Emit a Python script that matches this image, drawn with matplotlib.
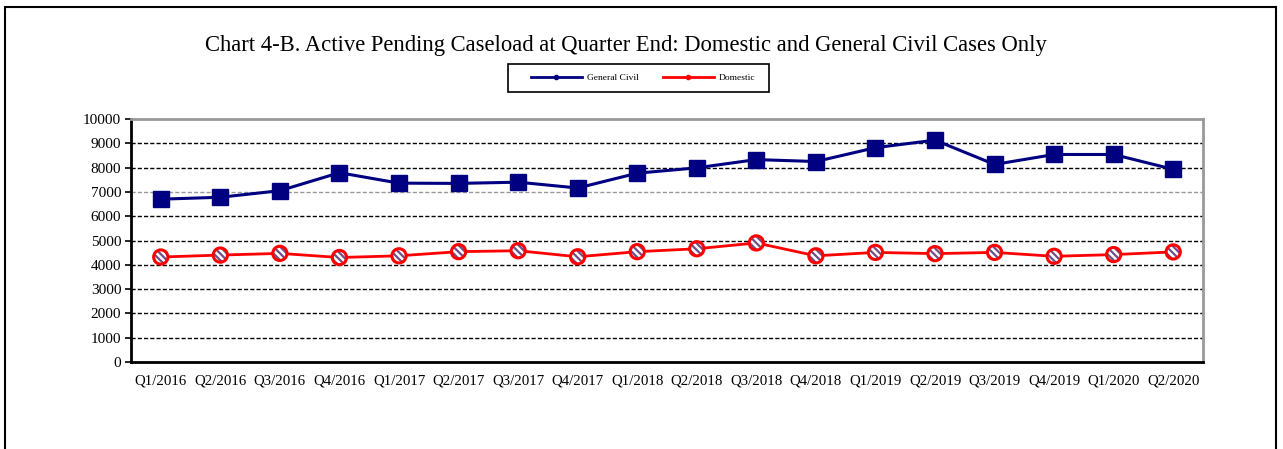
import matplotlib.pyplot as plt
import numpy as np
from matplotlib.lines import Line2D
from matplotlib.patches import Rectangle

plt.rcParams['font.family'] = ['Liberation Serif', 'DejaVu Serif']
plt.rcParams['hatch.linewidth'] = 1.6

quarters = ['Q1/2016', 'Q2/2016', 'Q3/2016', 'Q4/2016', 'Q1/2017', 'Q2/2017',
            'Q3/2017', 'Q4/2017', 'Q1/2018', 'Q2/2018', 'Q3/2018', 'Q4/2018',
            'Q1/2019', 'Q2/2019', 'Q3/2019', 'Q4/2019', 'Q1/2020', 'Q2/2020']
general_civil = [6700, 6780, 7050, 7790, 7360, 7350, 7400, 7160, 7770, 7990,
                 8330, 8250, 8820, 9130, 8130, 8540, 8540, 7930]
domestic = [4320, 4400, 4470, 4300, 4370, 4540, 4580, 4330, 4540, 4660,
            4900, 4370, 4510, 4460, 4510, 4350, 4420, 4530]

W, H = 1283, 449
fig = plt.figure(figsize=(W / 100, H / 100), dpi=100)
ax = fig.add_axes([131/W, 1 - 362/H, 1072/W, 243/H])

x = np.arange(len(quarters))

# grid lines
for v in range(1000, 10000, 1000):
    col = '#999999' if v == 7000 else 'black'
    ax.axhline(v, color=col, linestyle=(0, (3, 1.5)), linewidth=1.0, zorder=1)

ax.plot(x, general_civil, color='#000080', linewidth=2.2, marker='s',
        markersize=11.5, markerfacecolor='#000080', markeredgecolor='#000080', zorder=3)
ax.plot(x, domestic, color='#ff0000', linewidth=2.0, zorder=3)
ax.scatter(x, domestic, s=85, marker='o', facecolor='white', edgecolor='#6e4f88',
           hatch='\\\\\\\\\\', linewidth=0, zorder=4)
ax.scatter(x, domestic, s=105, marker='o', facecolor='none', edgecolor='#ff0000',
           linewidth=2.2, zorder=5)

ax.set_xlim(-0.5, len(quarters) - 0.5)
ax.set_ylim(0, 10000)
ax.set_yticks(range(0, 10001, 1000))
ax.set_xticks(x)
ax.set_xticklabels(quarters, fontsize=10.7)
ax.tick_params(axis='y', labelsize=11, length=4, width=1.2, direction='out', pad=3)
ax.tick_params(axis='x', length=0, pad=9)

ax.spines['left'].set_linewidth(2)
ax.spines['bottom'].set_linewidth(2)
ax.spines['top'].set_color('#999999')
ax.spines['right'].set_color('#999999')
ax.spines['top'].set_linewidth(2)
ax.spines['right'].set_linewidth(2)

fig.text(626/W, 1 - 45/H, 'Chart 4-B. Active Pending Caseload at Quarter End: Domestic and General Civil Cases Only',
         ha='center', va='center', fontsize=16.3)

# legend with its own frame
fig.patches.append(Rectangle((508/W, 1 - 92/H), 261/W, 28/H, transform=fig.transFigure,
                             fill=False, edgecolor='black', linewidth=1.2))
handles = [Line2D([0], [0], color='#000080', linewidth=2, marker='o', markersize=3),
           Line2D([0], [0], color='#ff0000', linewidth=2, marker='o', markersize=3)]
fig.legend(handles, ['General Civil', 'Domestic'], ncol=2, fontsize=6.8,
           loc='center', bbox_to_anchor=(643/W, 1 - 78/H), frameon=False,
           handlelength=5.4, handletextpad=0.5, columnspacing=2.6)

# outer chart border
fig.patches.append(Rectangle((5/W, -0.01), 1271/W, 1 - 7/H + 0.01,
                             transform=fig.transFigure, fill=False,
                             edgecolor='black', linewidth=1.5))

fig.savefig('out.png', dpi=100)
